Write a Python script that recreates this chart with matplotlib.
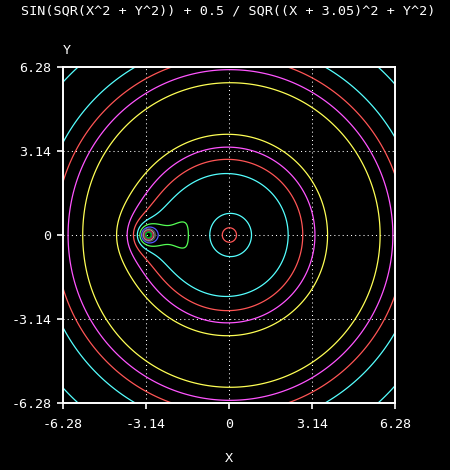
import numpy as np
import matplotlib.pyplot as plt

# function from the title: sin(sqrt(x^2+y^2)) + a / sqrt((x+shift)^2 + y^2)
coef = 0.5
shift = 3.05
lim = 6.28

# contour levels, with their palette colours
levels = [-0.48, -0.03, 0.43, 0.88, 1.33, 1.79, 2.24, 2.69, 3.14, 3.60, 4.05, 4.50, 4.96]
colors = ['#FFFF55', '#FF55FF', '#FF5555', '#55FFFF', '#55FF55', '#5555FF', '#555555',
          '#AAAAAA', '#AA5500', '#AA00AA', '#AA0000', '#00AAAA', '#00AA00']

tick_vals = [-6.28, -3.14, 0, 3.14, 6.28]
tick_labels = ['-6.28', '-3.14', '0', '3.14', '6.28']
title = 'SIN(SQR(X^2 + Y^2)) + 0.5 / SQR((X + 3.05)^2 + Y^2)'


def main():
    plt.rcParams['axes.unicode_minus'] = False
    plt.rcParams['font.family'] = 'DejaVu Sans Mono'

    x = np.linspace(-lim, lim, 501)
    y = np.linspace(-lim, lim, 501)
    X, Y = np.meshgrid(x, y)
    Z = np.sin(np.sqrt(X**2 + Y**2)) + coef / np.sqrt((X + shift)**2 + Y**2)

    fig = plt.figure(figsize=(4.5, 4.7), dpi=100, facecolor='black')
    ax = fig.add_axes([63 / 450, 67 / 470, 332 / 450, 336 / 470])
    ax.set_facecolor('black')

    # dotted grid through the ticks
    for v in tick_vals[1:-1]:
        ax.axvline(v, color='white', lw=0.75, ls=(0, (1, 3)), zorder=1)
        ax.axhline(v, color='white', lw=0.75, ls=(0, (1, 3)), zorder=1)

    ax.contour(X, Y, Z, levels=levels, colors=colors, linewidths=0.9, zorder=2)

    ax.set_xlim(-lim, lim)
    ax.set_ylim(-lim, lim)
    for sp in ax.spines.values():
        sp.set_color('white')
        sp.set_linewidth(1.4)
    ax.set_xticks(tick_vals)
    ax.set_xticklabels(tick_labels)
    ax.set_yticks(tick_vals)
    ax.set_yticklabels(tick_labels)
    ax.tick_params(colors='white', direction='out', length=4.5, width=1.2,
                   labelsize=9.6, pad=4)
    ax.tick_params(axis='x', pad=6)

    fig.text(228.5 / 450, 1 - 11 / 470, title, color='white', fontsize=9.7,
             ha='center', va='center')
    fig.text(67 / 450, 1 - 51 / 470, 'Y', color='white', fontsize=9.7,
             ha='center', va='center')
    fig.text(229 / 450, 1 - 458 / 470, 'X', color='white', fontsize=9.7,
             ha='center', va='center')

    fig.savefig('out.png', dpi=100, facecolor='black')


if __name__ == "__main__":
    main()
